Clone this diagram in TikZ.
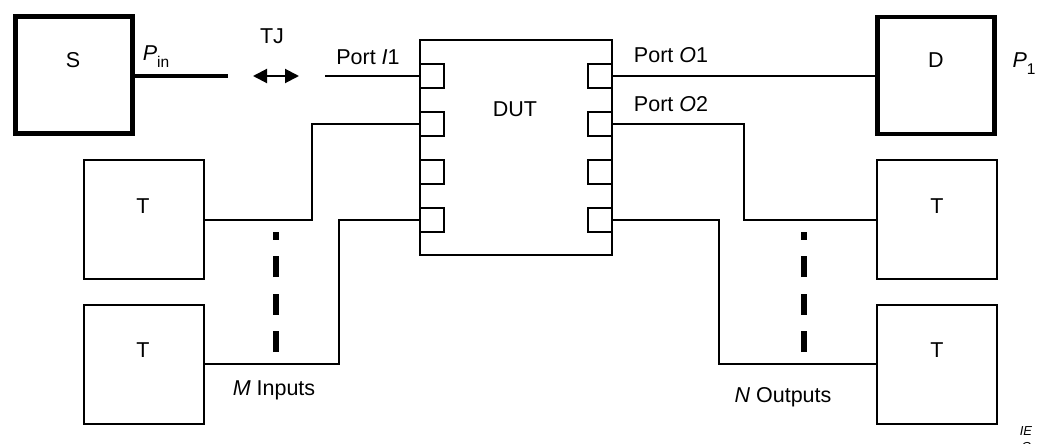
\documentclass[tikz,border=0pt]{standalone}
\usepackage{fontspec}
\setmainfont{Liberation Sans}
\usetikzlibrary{arrows.meta}
\newcommand\subtxt[1]{\raisebox{-0.28em}{\fontsize{15.5}{16}\selectfont #1}}
\begin{document}
\begin{tikzpicture}[x=1pt,y=-1pt,
  every node/.style={font=\fontsize{21.5}{26}\selectfont, inner sep=0pt, outer sep=0pt},
  thickbox/.style={draw, line width=4.3pt, minimum width=117pt, minimum height=117pt},
  tbox/.style={draw, line width=2pt, minimum width=120pt, minimum height=119pt},
  dutbox/.style={draw, line width=2.3pt, minimum width=192pt, minimum height=215pt},
  portsq/.style={draw, line width=2.3pt, minimum width=24pt, minimum height=24pt},
  wire/.style={line width=2pt},
  thickwire/.style={line width=4.3pt},
  dotsline/.style={line width=6pt, dash pattern=on 21pt off 16.5pt},
  lbl/.style={anchor=base},
  tjarrow/.style={line width=2pt, {Triangle[length=14pt,width=14pt]}-{Triangle[length=14pt,width=14pt]}}
]
\useasboundingbox (0,0) rectangle (1037,444);

% main boxes
\node[thickbox] (S) at (74,75) {};
\node[thickbox] (D) at (936,75.5) {};
\node[tbox] (T1) at (144,219.5) {};
\node[tbox] (T2) at (144,364) {};
\node[tbox] (T3) at (936.5,219.5) {};
\node[tbox] (T4) at (936.5,364) {};
\node[dutbox] (DUT) at (516,147.5) {};

% port squares
\node[portsq] (L1) at (432,76) {};
\node[portsq] (L2) at (432,124) {};
\node[portsq] (L3) at (432,172) {};
\node[portsq] (L4) at (432,220) {};
\node[portsq] (R1) at (600,76) {};
\node[portsq] (R2) at (600,124) {};
\node[portsq] (R3) at (600,172) {};
\node[portsq] (R4) at (600,220) {};

% labels
\node[lbl] (Slbl) at (73,68) {S};
\node[lbl] (Dlbl) at (936,68) {D};
\node[lbl] (T1lbl) at (143,213) {T};
\node[lbl] (T2lbl) at (143,357) {T};
\node[lbl] (T3lbl) at (937,213) {T};
\node[lbl] (T4lbl) at (937,357) {T};
\node[lbl] (DUTlbl) at (515,117) {DUT};
\node[lbl] (Pin) at (156,61) {\textit{P}\subtxt{in}};
\node[lbl] (P1) at (1024,68) {\textit{P}\subtxt{1}};
\node[lbl] (TJ) at (272,44) {TJ};
\node[lbl] (PI1) at (368,65) {Port \textit{I}1};
\node[lbl] (PO1) at (671,63) {Port \textit{O}1};
\node[lbl] (PO2) at (671,112) {Port \textit{O}2};
\node[lbl] (Min) at (274,395) {\textit{M} Inputs};
\node[lbl] (Nout) at (783,402) {\textit{N} Outputs};
\node[lbl, font=\fontsize{13}{14}\selectfont\itshape] (IEC1) at (1026,435) {IE};
\node[lbl, font=\fontsize{13}{14}\selectfont\itshape] (IEC2) at (1026,451) {C};

% coordinates
\coordinate (pinEnd) at (228,76);
\coordinate (tjA) at (253,76);
\coordinate (tjB) at (299,76);
\coordinate (i1Start) at (325,76);
\coordinate (k1) at (312,0);
\coordinate (k2) at (339,0);
\coordinate (k3) at (744,0);
\coordinate (k4) at (719,0);
\coordinate (d1a) at (276,352);
\coordinate (d1b) at (276,232);
\coordinate (d2a) at (804,352);
\coordinate (d2b) at (804,232);

% connectors
\draw[thickwire] (S.east |- pinEnd) -- (pinEnd);
\draw[tjarrow] (tjA) -- (tjB);
\draw[wire] (i1Start) -- (L1.west);
\draw[wire] (T1.east) -- (T1.east -| k1) |- (L2.west);
\draw[wire] (T2.east) -- (T2.east -| k2) |- (L4.west);
\draw[wire] (R1.east) -- (D.west |- R1.east);
\draw[wire] (R2.east) -- (R2.east -| k3) |- (T3.west);
\draw[wire] (R4.east) -- (R4.east -| k4) |- (T4.west);
\draw[dotsline] (d1a) -- (d1b);
\draw[dotsline] (d2a) -- (d2b);
\end{tikzpicture}
\end{document}
